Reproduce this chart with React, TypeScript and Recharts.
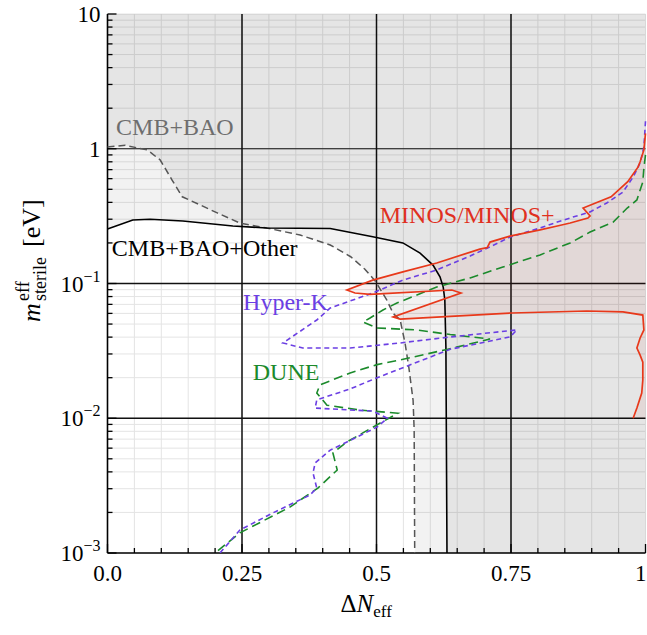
import React from 'react';
import {
  ComposedChart,
  Scatter,
  XAxis,
  YAxis,
  CartesianGrid,
  ReferenceLine,
  ReferenceDot,
} from 'recharts';

const FONT = 'Liberation Serif, DejaVu Serif, serif';
const serif = { fontFamily: FONT };

// axis ticks
const xTicks = [0, 0.05, 0.1, 0.15, 0.2, 0.25, 0.3, 0.35, 0.4, 0.45, 0.5, 0.55, 0.6, 0.65, 0.7, 0.75, 0.8, 0.85, 0.9, 0.95, 1];
const xTickLabels: Record<string, string> = { '0': '0.0', '0.25': '0.25', '0.5': '0.5', '0.75': '0.75', '1': '1' };
const yTicks = [
  0.001, 0.002, 0.003, 0.004, 0.005, 0.006, 0.007, 0.008, 0.009,
  0.01, 0.02, 0.03, 0.04, 0.05, 0.06, 0.07, 0.08, 0.09,
  0.1, 0.2, 0.3, 0.4, 0.5, 0.6, 0.7, 0.8, 0.9,
  1, 2, 3, 4, 5, 6, 7, 8, 9, 10,
];
const yTickLabels: Record<string, [string, string]> = {
  '0.001': ['10', '\u22123'],
  '0.01': ['10', '\u22122'],
  '0.1': ['10', '\u22121'],
  '1': ['1', ''],
  '10': ['10', ''],
};
const majorX = [0.25, 0.5, 0.75];
const majorY = [0.01, 0.1, 1];

// contours, [ΔNeff, m_eff]
const cmbBao = [
  [0, 1.03], [0.033, 1.06], [0.074, 0.98], [0.098, 0.825], [0.12, 0.586], [0.139, 0.44],
  [0.172, 0.383], [0.204, 0.334], [0.246, 0.281], [0.296, 0.258], [0.358, 0.229], [0.414, 0.193],
  [0.452, 0.158], [0.478, 0.128], [0.498, 0.104], [0.519, 0.0755], [0.531, 0.06], [0.544, 0.0536],
  [0.553, 0.0362], [0.56, 0.024], [0.568, 0.0136], [0.57, 0.0082], [0.571, 0.001],
];
const cmbBaoOther = [
  [0, 0.254], [0.047, 0.296], [0.079, 0.3], [0.14, 0.291], [0.233, 0.267], [0.296, 0.258],
  [0.414, 0.256], [0.493, 0.222], [0.549, 0.2], [0.581, 0.168], [0.605, 0.137], [0.618, 0.112],
  [0.624, 0.094], [0.627, 0.0755], [0.628, 0.05], [0.629, 0.0338], [0.631, 0.001],
];
const minos = [
  [1.0, 1.3], [0.997, 0.98], [0.99, 0.8], [0.986, 0.73], [0.967, 0.57], [0.936, 0.44],
  [0.884, 0.363], [0.897, 0.317], [0.893, 0.306], [0.86, 0.281], [0.836, 0.267], [0.804, 0.25],
  [0.748, 0.225], [0.711, 0.203], [0.706, 0.185], [0.692, 0.18], [0.612, 0.142], [0.549, 0.122],
  [0.493, 0.106], [0.445, 0.0895], [0.46, 0.085], [0.488, 0.083], [0.64, 0.0895], [0.657, 0.085],
  [0.531, 0.0564], [0.544, 0.0545], [0.752, 0.0604], [0.891, 0.0625], [0.958, 0.0615],
  [0.995, 0.0583], [0.997, 0.0452], [0.99, 0.0394], [0.984, 0.0332], [0.99, 0.0294],
  [0.995, 0.0261], [0.995, 0.0192], [0.993, 0.0154], [0.984, 0.0119], [0.977, 0.01],
];
const hyperK = [
  [1.0, 1.6], [0.997, 1.03], [0.99, 0.784], [0.977, 0.617], [0.958, 0.477], [0.928, 0.396],
  [0.897, 0.34], [0.865, 0.311], [0.836, 0.286], [0.804, 0.258], [0.748, 0.221], [0.711, 0.187],
  [0.674, 0.16], [0.612, 0.126], [0.549, 0.106], [0.493, 0.085], [0.414, 0.0658], [0.389, 0.0536],
  [0.334, 0.038], [0.326, 0.0362], [0.363, 0.0332], [0.451, 0.0332], [0.544, 0.0362],
  [0.637, 0.0401], [0.761, 0.0452], [0.748, 0.0401], [0.637, 0.0325], [0.5, 0.0199],
  [0.451, 0.0165], [0.389, 0.0137], [0.386, 0.0119], [0.419, 0.0117], [0.493, 0.0113],
  [0.52, 0.01], [0.501, 0.0086], [0.445, 0.00667], [0.414, 0.0058], [0.386, 0.00466],
  [0.382, 0.00393], [0.389, 0.00303], [0.376, 0.00269], [0.307, 0.00198], [0.246, 0.00148],
  [0.209, 0.001],
];
const dune = [
  [1.0, 0.9], [0.997, 0.72], [0.995, 0.567], [0.984, 0.417], [0.966, 0.363], [0.94, 0.286],
  [0.897, 0.241], [0.86, 0.2], [0.804, 0.163], [0.735, 0.1325], [0.674, 0.11], [0.612, 0.0942],
  [0.538, 0.0717], [0.512, 0.0636], [0.488, 0.0555], [0.475, 0.0518], [0.501, 0.0468],
  [0.575, 0.0452], [0.637, 0.0418], [0.711, 0.0387], [0.631, 0.0324], [0.544, 0.0271],
  [0.501, 0.025], [0.451, 0.0217], [0.395, 0.0177], [0.389, 0.0154], [0.408, 0.0125],
  [0.469, 0.0115], [0.54, 0.0109], [0.507, 0.00922], [0.445, 0.00667], [0.419, 0.00552],
  [0.427, 0.00413], [0.391, 0.00303], [0.339, 0.00219], [0.246, 0.00141], [0.2, 0.001],
];

// in-plot labels: [x, y (baseline), text, colour]
const labels: [number, number, string, string][] = [
  [0.016, 1.265, 'CMB+BAO', '#6e6e6e'],
  [0.008, 0.16, 'CMB+BAO+Other', '#000000'],
  [0.506, 0.281, 'MINOS/MINOS+', '#e0301e'],
  [0.252, 0.0635, 'Hyper-K', '#6b3fe3'],
  [0.27, 0.0192, 'DUNE', '#1b8a2b'],
];

const pts = (a: number[][]) => a.map(([x, y]) => ({ x, y }));
const cmbBaoFill = pts([[0, 10], ...cmbBao, [1, 0.001], [1, 10]]);
const otherFill = pts([[0, 10], ...cmbBaoOther, [1, 0.001], [1, 10]]);
const minosFill = pts([...minos, [1, 0.01]]);

const noShape = () => <g />;

const BottomTick = (p: any) => {
  const v = p.payload.value;
  const lab = xTickLabels[String(v)];
  return (
    <g>
      <line x1={p.x} y1={p.y} x2={p.x} y2={p.y - (lab ? 9 : 5)} stroke="#000" strokeWidth={1.3} />
      {lab && (
        <text
          x={v === 1 ? p.x + 1 : p.x}
          y={p.y + 28}
          textAnchor={v === 1 ? 'end' : 'middle'}
          style={serif}
          fontSize={23}
          fill="#000"
        >
          {lab}
        </text>
      )}
    </g>
  );
};
const TopTick = (p: any) => {
  const lab = xTickLabels[String(p.payload.value)];
  return <line x1={p.x} y1={p.y} x2={p.x} y2={p.y + (lab ? 9 : 5)} stroke="#000" strokeWidth={1.3} />;
};
const LeftTick = (p: any) => {
  const lab = yTickLabels[String(p.payload.value)];
  return (
    <g>
      <line x1={p.x} y1={p.y} x2={p.x + (lab ? 9 : 5)} y2={p.y} stroke="#000" strokeWidth={1.3} />
      {lab && (
        <text x={p.x - 7} y={p.y + 8} textAnchor="end" style={serif} fontSize={23} fill="#000">
          {lab[0]}
          {lab[1] && (
            <tspan dy={-10} fontSize={16}>
              {lab[1]}
            </tspan>
          )}
        </text>
      )}
    </g>
  );
};
const RightTick = (p: any) => {
  const lab = yTickLabels[String(p.payload.value)];
  return <line x1={p.x} y1={p.y} x2={p.x - (lab ? 9 : 5)} y2={p.y} stroke="#000" strokeWidth={1.3} />;
};

const XLabel = (p: any) => {
  const vb = p.viewBox;
  const x0 = vb.x + vb.width / 2 - 36;
  const y0 = vb.y + 59;
  return (
    <text x={x0} y={y0} style={serif} fontSize={25} fill="#000">
      {'\u0394'}
      <tspan fontStyle="italic">N</tspan>
      <tspan dy={5} fontSize={17}>eff</tspan>
    </text>
  );
};

const YLabel = () => {
  const cx = 31;
  const cy = 260;
  const u0 = cx - 62;
  const v0 = cy + 9;
  return (
    <g transform={`rotate(-90 ${cx} ${cy})`} style={serif} fill="#000">
      <text x={u0} y={v0} fontSize={26} fontStyle="italic">m</text>
      <text x={u0 + 21} y={v0 - 11} fontSize={18}>eff</text>
      <text x={u0 + 21} y={v0 + 6} fontSize={18}>sterile</text>
      <text x={u0 + 75} y={v0} fontSize={26}>[eV]</text>
    </g>
  );
};

const TextLabel = (color: string, text: string) => (p: any) => {
  const vb = p.viewBox;
  return (
    <text x={vb.x + vb.width / 2} y={vb.y + vb.height / 2} style={serif} fontSize={24} fill={color}>
      {text}
    </text>
  );
};

export default function App() {
  return (
    <div style={{ position: 'absolute', left: 0, top: 0, background: '#fff', fontFamily: FONT }}>
      <ComposedChart width={647} height={635} margin={{ top: 14, right: 1.5, bottom: 0, left: 0 }}>
        <CartesianGrid stroke="#e4e4e4" strokeWidth={1} />
        <XAxis
          dataKey="x"
          type="number"
          domain={[0, 1]}
          ticks={xTicks}
          interval={0}
          height={82}
          tickSize={0}
          tickMargin={0}
          tickLine={false}
          tick={BottomTick}
          axisLine={{ stroke: '#000', strokeWidth: 1.6 }}
          label={XLabel}
        />
        <XAxis
          xAxisId="top"
          orientation="top"
          dataKey="x"
          type="number"
          domain={[0, 1]}
          ticks={xTicks}
          interval={0}
          height={0}
          tickSize={0}
          tickMargin={0}
          tickLine={false}
          tick={TopTick}
          axisLine={{ stroke: '#000', strokeWidth: 1.6 }}
        />
        <YAxis
          dataKey="y"
          type="number"
          scale="log"
          domain={[0.001, 10]}
          allowDataOverflow
          ticks={yTicks}
          interval={0}
          width={107.5}
          tickSize={0}
          tickMargin={0}
          tickLine={false}
          tick={LeftTick}
          axisLine={{ stroke: '#000', strokeWidth: 1.6 }}
          label={YLabel}
        />
        <YAxis
          yAxisId="right"
          orientation="right"
          dataKey="y"
          type="number"
          scale="log"
          domain={[0.001, 10]}
          allowDataOverflow
          ticks={yTicks}
          interval={0}
          width={0}
          tickSize={0}
          tickMargin={0}
          tickLine={false}
          tick={RightTick}
          axisLine={{ stroke: '#000', strokeWidth: 1.6 }}
        />

        {/* excluded regions */}
        <Scatter data={cmbBaoFill} fill="none" shape={noShape} line={{ stroke: 'none', fill: 'rgba(0,0,0,0.05)' }} isAnimationActive={false} />
        <Scatter data={otherFill} fill="none" shape={noShape} line={{ stroke: 'none', fill: 'rgba(0,0,0,0.05)' }} isAnimationActive={false} />
        <Scatter data={minosFill} fill="none" shape={noShape} line={{ stroke: 'none', fill: 'rgba(190,70,50,0.08)' }} isAnimationActive={false} />

        {majorX.map((v) => (
          <ReferenceLine key={'x' + v} x={v} stroke="#111" strokeWidth={1.5} />
        ))}
        {majorY.map((v) => (
          <ReferenceLine key={'y' + v} y={v} stroke="#111" strokeWidth={v === 1 ? 1.1 : 1.6} />
        ))}

        {/* contours */}
        <Scatter data={pts(cmbBao)} fill="none" shape={noShape} line={{ stroke: '#555', strokeWidth: 1.5, strokeDasharray: '7 4' }} isAnimationActive={false} />
        <Scatter data={pts(cmbBaoOther)} fill="none" shape={noShape} line={{ stroke: '#000', strokeWidth: 1.6 }} isAnimationActive={false} />
        <Scatter data={pts(dune)} fill="none" shape={noShape} line={{ stroke: '#1b8a2b', strokeWidth: 1.6, strokeDasharray: '9 5' }} isAnimationActive={false} />
        <Scatter data={pts(hyperK)} fill="none" shape={noShape} line={{ stroke: '#6b3fe3', strokeWidth: 1.6, strokeDasharray: '5 3.5' }} isAnimationActive={false} />
        <Scatter data={pts(minos)} fill="none" shape={noShape} line={{ stroke: '#e8381a', strokeWidth: 1.7 }} isAnimationActive={false} />

        {labels.map(([x, y, text, color]) => (
          <ReferenceDot key={text} x={x} y={y} r={0} fill="none" stroke="none" label={TextLabel(color, text)} />
        ))}
      </ComposedChart>
    </div>
  );
}
